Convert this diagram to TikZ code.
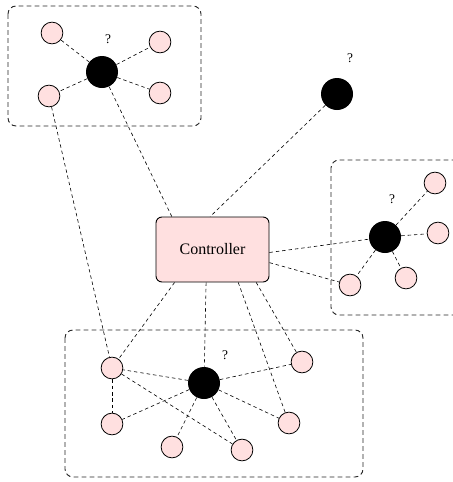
\documentclass[tikz,border=0pt]{standalone}
\usepackage{fontspec}
\setmainfont{Liberation Serif}
\begin{document}
\begin{tikzpicture}[x=0.75pt,y=-0.75pt,
  pinknode/.style={circle,draw=black,line width=0.6pt,fill=red!12,minimum size=16.3pt,inner sep=0pt},
  blacknode/.style={circle,fill=black,minimum size=24pt,inner sep=0pt},
  ctrlbox/.style={rectangle,rounded corners=4.5pt,draw=black,line width=0.7pt,fill=red!12,minimum width=84.75pt,minimum height=48.75pt,font=\fontsize{12pt}{14pt}\selectfont},
  qmark/.style={font=\fontsize{10pt}{12pt}\selectfont,inner sep=0pt},
  link/.style={dash pattern=on 2.6pt off 2.2pt,line width=0.45pt},
  group/.style={draw=black!85,dash pattern=on 3.6pt off 2.4pt,line width=0.7pt,rounded corners=6pt}]
\clip (0,0) rectangle (453,482);
% group boxes
\draw[group] (8,6) rectangle (201,126);
\draw[group] (331,160) rectangle (480,315);
\draw[group] (65,330) rectangle (363,477);
% nodes
\node[ctrlbox] (ctrl) at (212.5,249.5) {Controller};
% top-left cluster
\node[pinknode] (tl1) at (52,33) {};
\node[pinknode] (tl2) at (160,42) {};
\node[blacknode] (tlB) at (102,72) {};
\node[pinknode] (tl3) at (49,96) {};
\node[pinknode] (tl4) at (160,93) {};
\node[qmark] (tlq) at (108,39) {?};
% top single
\node[blacknode] (tB) at (337,94) {};
\node[qmark] (tq) at (350,58) {?};
% right cluster
\node[blacknode] (rB) at (385,237) {};
\node[pinknode] (r1) at (435,183) {};
\node[pinknode] (r2) at (438,233) {};
\node[pinknode] (r3) at (406,278) {};
\node[pinknode] (r4) at (350,285) {};
\node[qmark] (rq) at (392,199) {?};
% bottom cluster
\node[pinknode] (bA) at (112,368) {};
\node[blacknode] (bB) at (204,383) {};
\node[pinknode] (b2) at (302,362) {};
\node[pinknode] (bC) at (112,424) {};
\node[pinknode] (bD) at (172,447) {};
\node[pinknode] (bE) at (242,450) {};
\node[pinknode] (bF) at (289,423) {};
\node[qmark] (bq) at (225,355) {?};
% links
\draw[link] (tlB) -- (tl1);
\draw[link] (tlB) -- (tl2);
\draw[link] (tlB) -- (tl3);
\draw[link] (tlB) -- (tl4);
\draw[link] (tlB) -- (ctrl.141);
\draw[link] (tl3) -- (bA);
\draw[link] (tB) -- (ctrl.94);
\draw[link] (rB) -- (r1);
\draw[link] (rB) -- (r2);
\draw[link] (rB) -- (r3);
\draw[link] (rB) -- (r4);
\draw[link] (ctrl.-3.5) -- (rB);
\draw[link] (ctrl.-13.4) -- (r4);
\draw[link] (ctrl.221) -- (bA);
\draw[link] (ctrl.259) -- (bB);
\draw[link] (ctrl.-52) -- (bF);
\draw[link] (ctrl.-37.4) -- (b2);
\draw[link] (bB) -- (bA);
\draw[link] (bB) -- (b2);
\draw[link] (bB) -- (bC);
\draw[link] (bB) -- (bD);
\draw[link] (bB) -- (bE);
\draw[link] (bB) -- (bF);
\draw[link] (bA) -- (bC);
\draw[link] (bA) -- (bE);
\end{tikzpicture}
\end{document}
